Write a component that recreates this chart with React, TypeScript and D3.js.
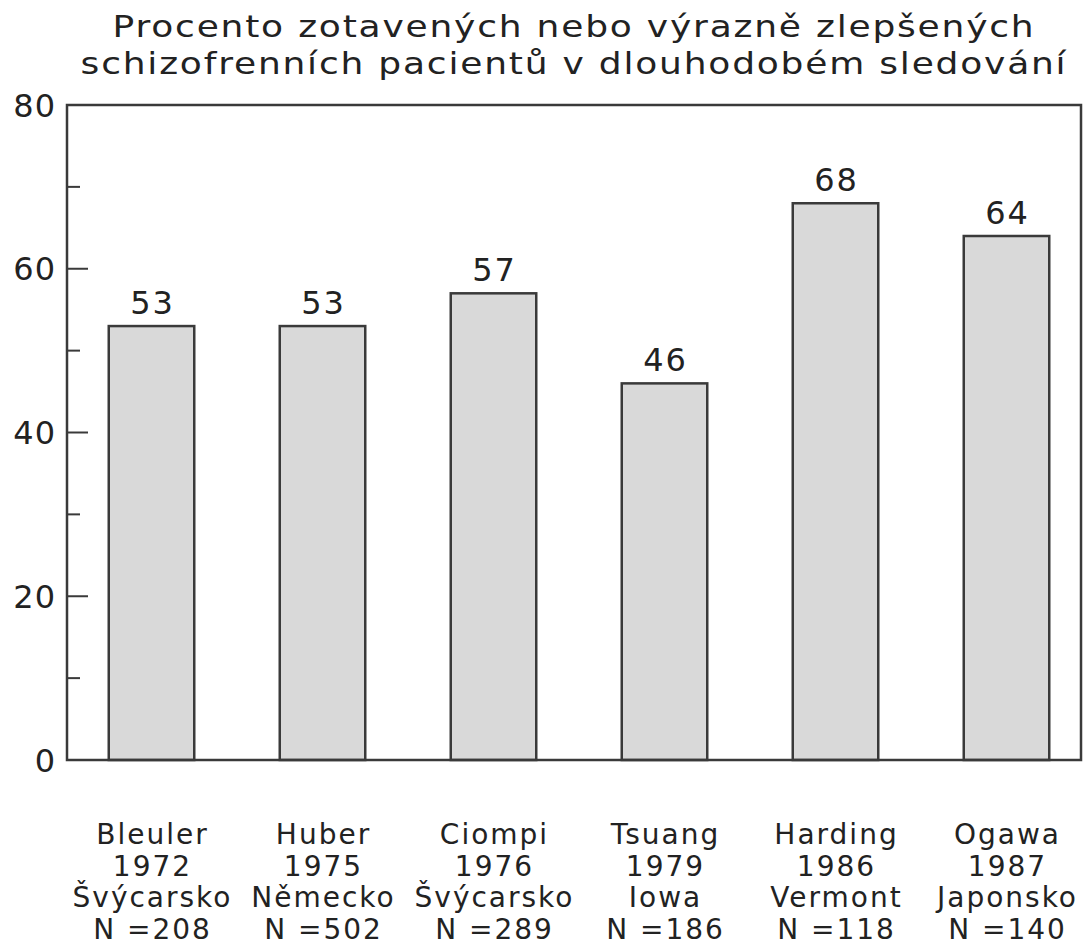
import * as d3 from 'd3';
import React from 'react';

const titleLines = [
  'Procento zotavených nebo výrazně zlepšených',
  'schizofrenních pacientů v dlouhodobém sledování',
];
const authors = ['Bleuler', 'Huber', 'Ciompi', 'Tsuang', 'Harding', 'Ogawa'];
const years = ['1972', '1975', '1976', '1979', '1986', '1987'];
const places = ['Švýcarsko', 'Německo', 'Švýcarsko', 'Iowa', 'Vermont', 'Japonsko'];
const sampleSizes = ['N =208', 'N =502', 'N =289', 'N =186', 'N =118', 'N =140'];
const percents = [53, 53, 57, 46, 68, 64];
const majorTicks = [0, 20, 40, 60, 80];
const minorTicks = [10, 30, 50, 70];

const W = 1088;
const H = 946;
const frame = { left: 67, right: 1081, top: 105, bottom: 760 };
const font = '"DejaVu Sans", Verdana, sans-serif';
const ink = '#222';
const lineCol = '#3a3a3a';

export default function App() {
  const y = d3.scaleLinear().domain([0, 80]).range([frame.bottom, frame.top]);
  const x = d3
    .scaleBand<string>()
    .domain(authors)
    .range([66, 1092])
    .paddingInner(0.5)
    .paddingOuter(0.25);

  return (
    <svg
      width={W}
      height={H}
      style={{ position: 'absolute', left: 0, top: 0, background: '#fff' }}
    >
      {/* title */}
      {titleLines.map((t, i) => (
        <text
          key={t}
          transform={`translate(574, ${37 + i * 37}) scale(1.2, 1)`}
          textAnchor="middle"
          fontFamily={font}
          fontSize={30}
          letterSpacing={1.5}
          fill={ink}
        >
          {t}
        </text>
      ))}

      {/* bars */}
      {authors.map((a, i) => (
        <rect
          key={a}
          x={x(a)}
          y={y(percents[i])}
          width={x.bandwidth()}
          height={y(0) - y(percents[i])}
          fill="#d9d9d9"
          stroke={lineCol}
          strokeWidth={2.5}
        />
      ))}

      {/* frame */}
      <rect
        x={frame.left}
        y={frame.top}
        width={frame.right - frame.left}
        height={frame.bottom - frame.top}
        fill="none"
        stroke={lineCol}
        strokeWidth={2.5}
      />

      {/* y ticks */}
      {majorTicks.map((t) => (
        <g key={t}>
          {t > 0 && t < 80 && (
            <line x1={frame.left} x2={frame.left + 21} y1={y(t)} y2={y(t)} stroke={lineCol} strokeWidth={2} />
          )}
          <text
            x={56}
            y={y(t)}
            dy="0.36em"
            textAnchor="end"
            fontFamily={font}
            fontSize={32}
            letterSpacing={1}
            fill={ink}
          >
            {t}
          </text>
        </g>
      ))}
      {minorTicks.map((t) => (
        <line key={t} x1={frame.left} x2={frame.left + 13} y1={y(t)} y2={y(t)} stroke={lineCol} strokeWidth={2} />
      ))}

      {/* value labels */}
      {authors.map((a, i) => (
        <text
          key={a}
          x={(x(a) as number) + x.bandwidth() / 2 + 1}
          y={y(percents[i]) - 12}
          textAnchor="middle"
          fontFamily={font}
          fontSize={32}
          letterSpacing={2}
          fill={ink}
        >
          {percents[i]}
        </text>
      ))}

      {/* category labels */}
      {authors.map((a, i) => {
        const cx = (x(a) as number) + x.bandwidth() / 2 + 1;
        const lines = [a, years[i], places[i], sampleSizes[i]];
        return (
          <g key={a}>
            {lines.map((l, j) => (
              <text
                key={j}
                x={cx}
                y={844 + j * 31.5}
                textAnchor="middle"
                fontFamily={font}
                fontSize={28}
                letterSpacing={2}
                fill={ink}
              >
                {l}
              </text>
            ))}
          </g>
        );
      })}
    </svg>
  );
}
